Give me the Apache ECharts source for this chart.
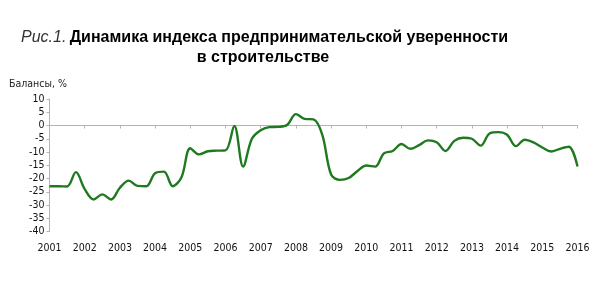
<!DOCTYPE html>
<html>
<head>
<meta charset="utf-8">
<script src="https://cdn.jsdelivr.net/npm/echarts@6/dist/echarts.min.js"></script>
<style>html,body{margin:0;padding:0;background:#fff}#c{width:597px;height:308px}</style>
</head>
<body>
<div id="c"></div>
<script>
// Quarterly observations, 2001 Q1 .. 2016 Q1
var years = ['2001','2002','2003','2004','2005','2006','2007','2008','2009','2010','2011','2012','2013','2014','2015','2016'];
var quarters = [];
years.forEach(function (y, i) {
  var n = (i === years.length - 1) ? 1 : 4;
  for (var q = 1; q <= n; q++) quarters.push(y + ' Q' + q);
});
var balance = [
  -22.9, -22.9, -23.0, -17.6,   // 2001
  -24.0, -27.9, -26.0, -27.9,   // 2002
  -23.5, -20.8, -22.8, -22.9,   // 2003
  -18.0, -17.4, -22.9, -19.5,   // 2004
  -8.6, -10.9, -9.7, -9.5,      // 2005
  -9.4, -0.2, -15.5, -5.0,      // 2006
  -1.8, -0.6, -0.5, 0.2,        // 2007
  4.3, 2.5, 2.3, -3.5,          // 2008
  -18.5, -20.5, -19.8, -17.2,   // 2009
  -15.1, -15.5, -10.5, -9.6,    // 2010
  -7.0, -8.8, -7.4, -5.6,       // 2011
  -6.3, -9.6, -5.8, -4.6,       // 2012
  -5.0, -7.6, -3.0, -2.5,       // 2013
  -3.5, -7.8, -5.4, -6.4,       // 2014
  -8.3, -9.8, -8.8, -8.0,       // 2015
  -15.5                         // 2016
];
var yTicks = {min: -40, max: 10, step: 5};
var yAxisTitle = 'Балансы, %';
var titleFig = 'Рис.1.';
var titleLine1 = 'Динамика индекса предпринимательской уверенности';
var titleLine2 = 'в строительстве';

var chart = echarts.init(document.getElementById('c'), null, {renderer: 'canvas'});
var axFont = "'DejaVu Sans Condensed', 'DejaVu Sans', sans-serif";
chart.setOption({
  animation: false,
  backgroundColor: '#fff',
  grid: {left: 49.5, right: 19.5, top: 99, bottom: 76.5, containLabel: false},
  graphic: [
    {type: 'text', left: 21, top: 30, style: {
      rich: {
        f: {fontFamily: "'Liberation Sans', Arial, sans-serif", fontStyle: 'italic', fontWeight: 'normal', fontSize: 16, fill: '#333'},
        b: {fontFamily: "'Liberation Sans', Arial, sans-serif", fontWeight: 'bold', fontSize: 16, fill: '#000'}
      },
      text: '{f|' + titleFig + '} {b|' + titleLine1 + '}'
    }},
    {type: 'text', x: 263, y: 58, style: {
      text: titleLine2, fontFamily: "'Liberation Sans', Arial, sans-serif", fontWeight: 'bold', fontSize: 16, fill: '#000',
      textAlign: 'center', textVerticalAlign: 'middle'
    }},
    {type: 'text', left: 9, top: 79, style: {
      text: yAxisTitle, fontFamily: axFont, fontSize: 10.5, fill: '#222'
    }}
  ],
  xAxis: [
    {type: 'category', data: quarters, boundaryGap: false,
     axisLine: {show: false, onZero: false}, axisTick: {show: false},
     axisLabel: {interval: 3, margin: 11, fontFamily: axFont, fontSize: 10.5, color: '#111',
       formatter: function (v) { return v.slice(0, 4); }},
     splitLine: {show: false}},
    {type: 'category', data: quarters, boundaryGap: false, position: 'bottom',
     axisLine: {show: true, onZero: true, lineStyle: {color: '#b3b3b3', width: 1}},
     axisTick: {show: true, interval: 3, length: 3, lineStyle: {color: '#b3b3b3'}},
     axisLabel: {show: false}, splitLine: {show: false}}
  ],
  yAxis: {
    type: 'value', min: yTicks.min, max: yTicks.max, interval: yTicks.step,
    axisLine: {show: true, lineStyle: {color: '#b3b3b3'}},
    axisTick: {show: true, length: 3, lineStyle: {color: '#b3b3b3'}},
    axisLabel: {margin: 5, fontFamily: axFont, fontSize: 10.5, color: '#111'},
    splitLine: {show: false}
  },
  series: [{
    type: 'line', xAxisIndex: 0, data: balance, smooth: 0.35, symbol: 'none',
    lineStyle: {color: '#1f7a1f', width: 2.4}
  }]
});
</script>
</body>
</html>
